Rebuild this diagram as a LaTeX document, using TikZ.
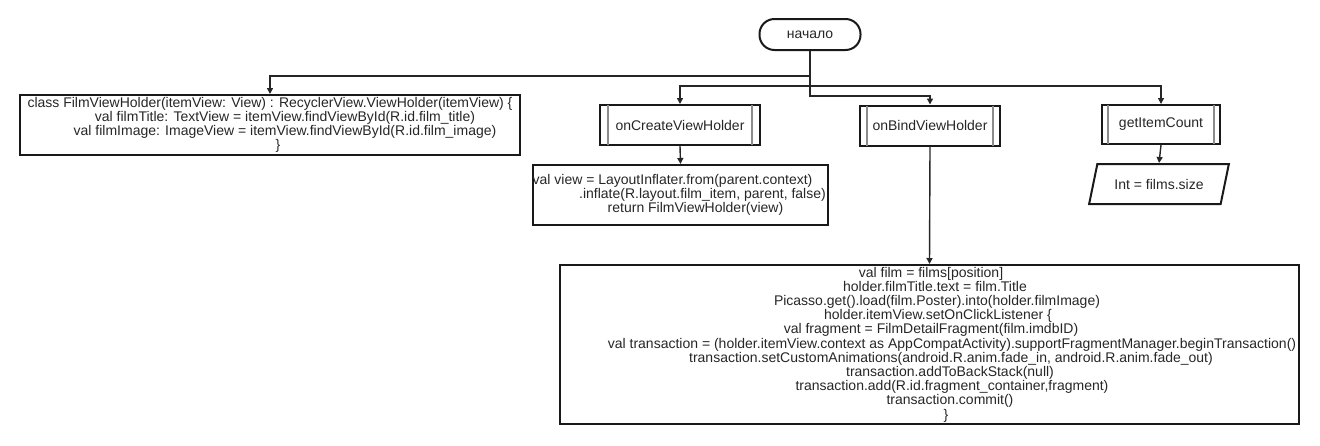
\documentclass[tikz,border=0pt]{standalone}
\usepackage{fontspec}
\setmainfont{Liberation Sans}
\usetikzlibrary{arrows.meta,shapes.geometric}
\begin{document}
\begin{tikzpicture}[x=1pt,y=-1pt,
  txt/.style={align=center,inner sep=0pt,font=\fontsize{14}{14.2}\selectfont,text=black!85},
  box/.style={txt,draw=black!90,line width=2pt},
  term/.style={box,rounded corners=15pt,minimum width=101pt,minimum height=31pt},
  subr/.style={box,minimum height=40pt},
  iodata/.style={box,trapezium,trapezium left angle=60,trapezium right angle=120,trapezium stretches=true,minimum width=140pt,minimum height=40pt},
  conn/.style={draw=black!85,line width=1.4pt,-{Triangle[width=6pt,length=6pt]}},
  innerl/.style={draw=black!45,line width=1.2pt}
]
\useasboundingbox (0,0) rectangle (1320,445);

\node[term] (start) at (810,34.5) {начало};

\node[box,minimum width=500pt,minimum height=60pt] (cls) at (270,125)
 {class FilmViewHolder(itemView: View) : RecyclerView.ViewHolder(itemView) \{\\
  \hspace*{30pt}val filmTitle: TextView = itemView.findViewById(R.id.film\_title)\\
  \hspace*{30pt}val filmImage: ImageView = itemView.findViewById(R.id.film\_image)\\
  \hspace*{16pt}\}};

\node[subr,minimum width=160pt] (oncreate) at (680,125) {onCreateViewHolder};
\node[subr,minimum width=140pt] (onbind) at (930,125.5) {onBindViewHolder};
\node[subr,minimum width=118pt,minimum height=39pt] (count) at (1161,124.5) {getItemCount};

\foreach \n/\d in {oncreate/9,onbind/8,count/7}{
  \draw[innerl] ([xshift=\d pt,yshift=-1pt]\n.north west) -- ([xshift=\d pt,yshift=1pt]\n.south west);
  \draw[innerl] ([xshift=-\d pt,yshift=-1pt]\n.north east) -- ([xshift=-\d pt,yshift=1pt]\n.south east);
}

\node[box,minimum width=281pt,minimum height=60pt] (inflate) at (680.5,195)
 {val view = LayoutInflater.from(parent.context)\hspace*{16pt}\\
  \hspace*{44pt}.inflate(R.layout.film\_item, parent, false)\\
  \hspace*{30pt}return FilmViewHolder(view)};

\node[iodata] (size) at (1159,184) {Int = films.size};

\node[box,minimum width=739pt,minimum height=159pt] (bind) at (929.5,344.5)
 {\hspace*{3pt}val film = films[position]\\
  \hspace*{11pt}holder.filmTitle.text = film.Title\\
  \hspace*{15pt}Picasso.get().load(film.Poster).into(holder.filmImage)\\
  \hspace*{17pt}holder.itemView.setOnClickListener \{\\
  \hspace*{3pt}val fragment = FilmDetailFragment(film.imdbID)\\
  \hspace*{45pt}val transaction = (holder.itemView.context as AppCompatActivity).supportFragmentManager.beginTransaction()\\
  \hspace*{43pt}transaction.setCustomAnimations(android.R.anim.fade\_in, android.R.anim.fade\_out)\\
  \hspace*{41pt}transaction.addToBackStack(null)\\
  \hspace*{45pt}transaction.add(R.id.fragment\_container,fragment)\\
  \hspace*{41pt}transaction.commit()\\
  \hspace*{33pt}\}};

\draw[conn] (start.south) -- ++(0,25) -| (cls.north);
\draw[conn] (start.south) -- ++(0,35) -| (oncreate.north);
\draw[conn] (start.south) -- ++(0,35) -| (count.north);
\draw[conn] (start.south) -- ++(0,45) -| (onbind.north);
\draw[conn] (oncreate.south) -- (inflate.north);
\draw[conn] (onbind.south) -- (bind.north);
\draw[conn] (count.south) -- (size.north);
\end{tikzpicture}
\end{document}
